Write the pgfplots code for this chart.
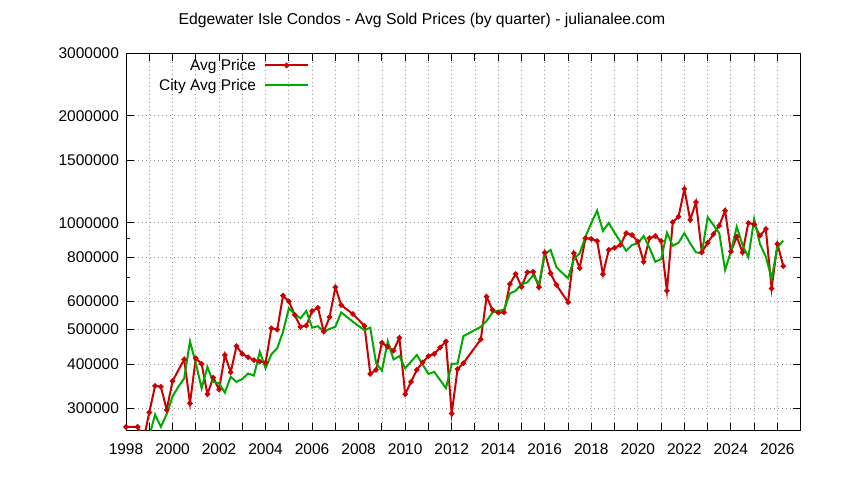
\documentclass[border=0pt]{standalone}
\usepackage{fontspec}
\setmainfont{Liberation Sans}
\usepackage{pgfplots}
\pgfplotsset{compat=1.18}

\definecolor{avgred}{RGB}{204,0,0}
\definecolor{citygreen}{RGB}{0,170,0}
\definecolor{gridgray}{RGB}{150,150,150}
\newcommand{\lab}{\fontsize{15.5}{18}\selectfont}

% quarterly averages
\pgfplotstableread{
x        y
1998.00  266000
1998.50  266000
1998.75  244000
1999.00  292000
1999.25  347000
1999.50  345000
1999.75  297000
2000.00  358000
2000.50  412000
2000.75  310000
2001.00  415000
2001.25  400000
2001.50  329000
2001.75  366000
2002.00  339000
2002.25  424000
2002.50  379000
2002.75  449000
2003.00  427000
2003.25  418000
2003.50  410000
2003.75  406000
2004.00  404000
2004.25  504000
2004.50  500000
2004.75  623000
2005.00  600000
2005.25  550000
2005.50  509000
2005.75  513000
2006.00  564000
2006.25  576000
2006.50  493000
2006.75  542000
2007.00  658000
2007.25  586000
2007.75  553000
2008.25  512000
2008.50  375000
2008.75  385000
2009.00  459000
2009.25  447000
2009.50  436000
2009.75  474000
2010.00  329000
2010.25  356000
2010.50  385000
2010.75  404000
2011.00  421000
2011.25  427000
2011.50  445000
2011.75  463000
2012.00  290000
2012.25  387000
2012.50  402000
2013.25  469000
2013.50  619000
2013.75  568000
2014.00  558000
2014.25  559000
2014.50  672000
2014.75  717000
2015.00  660000
2015.25  725000
2015.50  727000
2015.75  658000
2016.00  823000
2016.25  720000
2016.50  668000
2017.00  597000
2017.25  820000
2017.50  745000
2017.75  904000
2018.00  900000
2018.25  888000
2018.50  716000
2018.75  838000
2019.00  850000
2019.25  865000
2019.50  934000
2019.75  923000
2020.00  884000
2020.25  776000
2020.50  904000
2020.75  917000
2021.00  888000
2021.25  643000
2021.50  1003000
2021.75  1040000
2022.00  1244000
2022.25  1018000
2022.50  1142000
2022.75  825000
2023.00  878000
2023.25  928000
2023.50  981000
2023.75  1081000
2024.00  829000
2024.25  913000
2024.50  825000
2024.75  998000
2025.00  990000
2025.25  919000
2025.50  960000
2025.75  653000
2026.00  871000
2026.25  755000
}\avgtable

\pgfplotstableread{
x        y
1999.00  250000
1999.25  288000
1999.50  266000
1999.75  289000
2000.00  324000
2000.25  345000
2000.50  364000
2000.75  463000
2001.00  402000
2001.25  342000
2001.50  392000
2001.75  356000
2002.00  353000
2002.25  332000
2002.50  368000
2002.75  356000
2003.00  363000
2003.25  376000
2003.50  371000
2003.75  433000
2004.00  389000
2004.25  426000
2004.50  443000
2004.75  493000
2005.00  574000
2005.25  552000
2005.50  538000
2005.75  564000
2006.00  506000
2006.25  511000
2006.50  493000
2006.75  502000
2007.00  509000
2007.25  559000
2007.75  526000
2008.25  498000
2008.50  506000
2008.75  402000
2009.00  383000
2009.25  463000
2009.50  412000
2009.75  421000
2010.00  389000
2010.25  406000
2010.50  424000
2011.00  375000
2011.25  380000
2011.75  342000
2012.00  400000
2012.25  401000
2012.50  479000
2013.25  509000
2013.50  529000
2013.75  558000
2014.00  565000
2014.25  568000
2014.50  632000
2014.75  643000
2015.00  671000
2015.25  679000
2015.50  712000
2015.75  671000
2016.00  816000
2016.25  838000
2016.50  749000
2017.00  697000
2017.25  789000
2017.50  820000
2017.75  913000
2018.00  998000
2018.25  1081000
2018.50  948000
2018.75  998000
2019.00  937000
2019.25  884000
2019.50  833000
2019.75  865000
2020.00  875000
2020.25  917000
2020.50  850000
2020.75  776000
2021.00  790000
2021.25  937000
2021.50  861000
2021.75  878000
2022.00  934000
2022.25  875000
2022.50  825000
2022.75  820000
2023.00  1036000
2023.25  985000
2023.50  934000
2023.75  736000
2024.00  829000
2024.25  974000
2024.50  865000
2024.75  799000
2025.00  1024000
2025.25  871000
2025.50  802000
2025.75  697000
2026.00  853000
2026.25  890000
}\citytable

\begin{document}
\begin{tikzpicture}[x=1pt,y=1pt]
\useasboundingbox (0,0) rectangle (844,480);
\begin{axis}[
  at={(126pt,49pt)}, anchor=south west,
  scale only axis,
  width=674.7pt, height=377.7pt,
  xmin=1998, xmax=2027,
  ymode=log, ymin=259000, ymax=3000000,
  axis line style={line width=1pt, black},
  tick style={line width=0.9pt, black},
  tick align=inside, tick pos=both,
  major tick length=8pt, minor tick length=4pt,
  xtick={1998,1999,...,2026},
  xticklabels={1998,,2000,,2002,,2004,,2006,,2008,,2010,,2012,,2014,,2016,,2018,,2020,,2022,,2024,,2026},
  ytick={300000,400000,500000,600000,800000,1000000,1500000,2000000,3000000},
  yticklabels={300000,400000,500000,600000,800000,1000000,1500000,2000000,3000000},
  minor ytick={700000,900000},
  xmajorgrids, ymajorgrids,
  major grid style={gridgray, line width=0.7pt, dash pattern=on 0.8pt off 3.2pt},
  tick label style={font=\lab},
  xticklabel style={yshift=-9pt},
  yticklabel style={xshift=-3.5pt},
  /pgf/number format/assume math mode=true,
  legend plot pos=right,
  legend cell align=right,
  legend style={
    draw=none, fill=none, font=\lab,
    at={(axis description cs:0.2717,0.983)}, anchor=north east,
    inner sep=0pt, row sep=5.3pt, column sep=8pt,
    nodes={inner sep=0pt, text height=11pt, text depth=3pt}
  },
  legend image code/.code={
    \draw[mark repeat=2, mark phase=2, #1, yshift=1.5pt]
      plot coordinates {(0pt,0pt) (21.5pt,0pt) (43pt,0pt)};
  },
]
\addplot[avgred, line width=2pt, mark=*, mark size=1.6pt,
  mark options={solid, fill=avgred}] table[x=x, y=y] {\avgtable};
\addlegendentry{Avg Price}
\addplot[citygreen, line width=2pt] table[x=x, y=y] {\citytable};
\addlegendentry{City Avg Price}
\end{axis}
\node[anchor=base, font=\fontsize{15.7}{18}\selectfont] at (422,455)
  {Edgewater Isle Condos - Avg Sold Prices (by quarter) - julianalee.com};
\end{tikzpicture}
\end{document}
